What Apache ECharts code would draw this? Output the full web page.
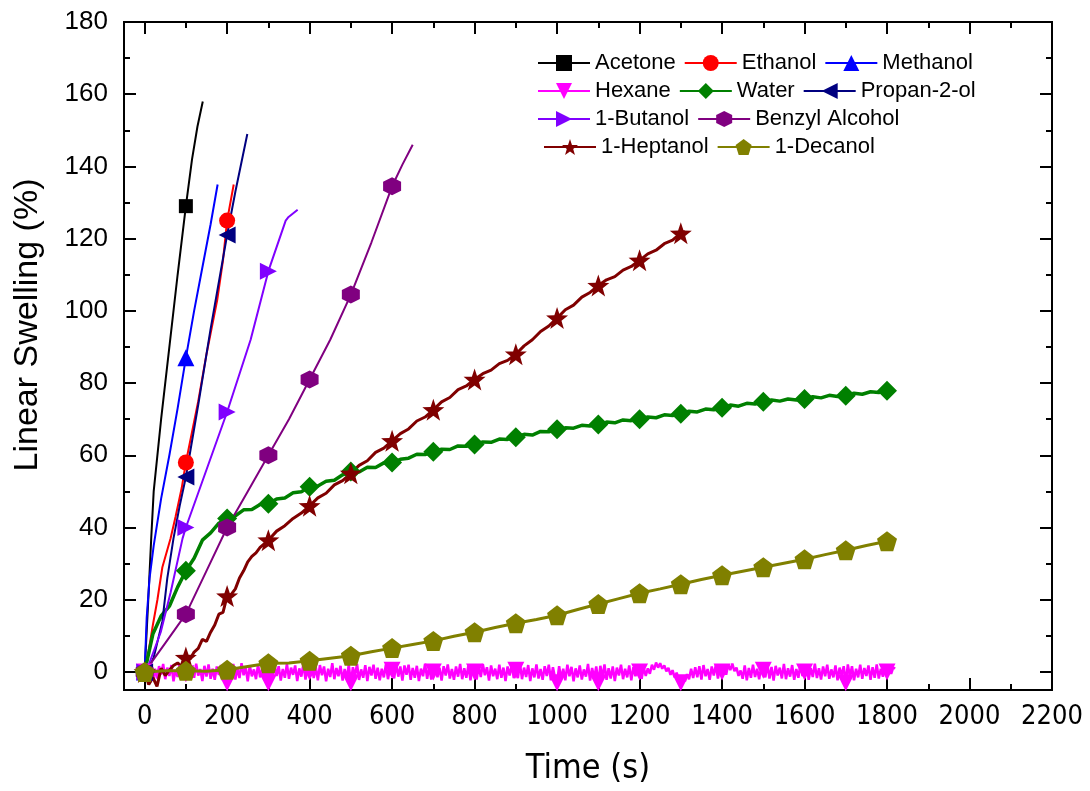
<!DOCTYPE html>
<html>
<head>
<meta charset="utf-8">
<script src="https://cdn.jsdelivr.net/npm/echarts@6/dist/echarts.min.js"></script>
<style>
  html, body { margin: 0; background: #fff; }
  #chart { width: 1090px; height: 791px; }
</style>
</head>
<body>
<div id="chart"></div>
<script>
// [time (s), linear swelling (%)]
const acetone = [[0,0],[8,18],[16,37],[22,50],[40,70],[61,91],[80,110],[100,129],[115,142],[128,151],[141,158]];
const ethanol = [[0,0],[10,6],[20,13],[31,20],[43,29],[63,37],[75,43],[90,51],[100,58],[130,75],[150,88],[176,103],[190,114],[200,125],[216,135]];
const methanol = [[0,0],[5,15],[12,26],[22,35],[40,48],[60,60],[80,73],[100,87],[120,100],[140,112],[160,124],[177,135]];
const propanol = [[0,0],[10,1],[22,4],[43,14],[55,26],[70,37],[85,46],[100,54],[130,74],[160,95],[200,121],[220,133],[249,149]];
const butanol = [[0,0],[10,2],[39,11],[63,22],[92,37],[100,40],[150,56],[200,72],[257,92],[300,111],[342,125],[349,126],[371,128]];
const benzyl = [[0,0],[50,8],[100,16],[150,28],[200,40],[250,50],[300,60],[350,70],[400,81],[450,92],[500,104.5],[550,119],[600,134.5],[625,140.5],[650,146]];
const decanol = [[0,0],[50,0.3],[100,0.3],[150,0.2],[200,0.6],[250,1.5],[300,2.4],[350,2.5],[400,3.1],[450,3.8],[500,4.5],[550,5.6],[600,6.6],[650,7.6],[700,8.6],[750,9.9],[800,11],[850,12.3],[900,13.5],[950,14.5],[1000,15.7],[1050,17.3],[1100,18.8],[1150,20.3],[1200,21.8],[1250,23.0],[1300,24.3],[1350,25.6],[1400,26.8],[1450,27.9],[1500,29],[1550,30.1],[1600,31.2],[1650,32.5],[1700,33.7],[1750,35],[1800,36.2]];
const heptanol = [[0,0],[10,-3.5],[20,-1.5],[30,-4],[40,1],[50,-1],[60,0.5],[70,1.8],[80,2.5],[90,1.5],[100,4],
  [110,3.5],[120,5.5],[130,6.5],[140,9],[150,8.5],[160,11],[170,13],[180,16],[190,16.5],[200,21],
  [210,21.5],[220,23],[230,26],[240,28],[250,30.5],[260,32],[270,33],[280,34.5],[290,35.5],[300,36.5],
  [320,39],[340,40.5],[360,42.5],[380,44],[400,46],[420,48.2],[440,49.5],[460,51.8],[480,53],[500,55],
  [520,57.2],[540,58.5],[560,60.8],[580,62],[600,64],[620,66],[640,67.3],[660,69.5],[680,70.6],[700,72.6],
  [720,74.8],[740,76],[760,78.2],[780,79.2],[800,81],[820,82.6],[840,83.6],[860,85.4],[880,86.3],[900,88],
  [920,90.3],[940,92],[960,94.3],[980,95.8],[1000,98],[1020,100.3],[1040,101.6],[1060,103.8],[1080,105.1],[1100,107],
  [1120,108.6],[1140,109.5],[1160,111.3],[1180,112.3],[1200,114],[1220,115.8],[1240,116.8],[1260,118.6],[1280,119.6],[1300,121.5],[1310,122]];

// water, sampled every 20 s
const waterStep = 20;
const waterVals = [0,10.5,15.5,18.2,23.5,28,31.5,36.5,38.5,41.2,
  42.5,43.2,44.9,45.0,46.4,46.6,47.9,48.2,49.6,49.9,
  51.3,51.5,52.8,53.1,54.6,55.5,55.4,56.7,56.6,57.9,
  58,58.9,59.2,60.3,60.2,61,61.7,61.6,62.6,62.5,
  63,63.7,63.6,64.5,64.4,65,65.8,65.6,66.6,66.5,
  67.2,67.6,67.5,68.3,68.1,68.5,69.2,69.0,69.8,69.6,
  70,70.6,70.4,71.2,71.0,71.5,72.2,72.0,72.8,72.6,
  73.2,73.9,73.6,74.4,74.2,74.8,75.3,75.0,75.6,75.3,
  75.6,76.2,75.9,76.6,76.3,76.5,77.2,76.9,77.6,77.4,77.9];

// hexane, sampled every 5 s (noise band around zero)
const hexaneStep = 5;
const hexaneVals = [
  0,1.8,-1.5,2.1,-2.4,0.9,-1.8,1.6,-0.7,2.2,-2.0,1.2,-1.1,1.9,-2.6,0.6,-1.4,2.0,-1.9,1.1,
  -0.5,2.0,-2.2,1.3,-1.6,2.3,-1.0,0.8,-2.5,1.7,-1.3,2.1,-1.9,0.9,-2.2,1.5,-0.8,1.9,-2.4,1.2,
  -3.0,1.6,-1.4,2.2,-2.1,1.0,-1.7,2.4,-0.9,1.3,-2.6,1.8,-1.2,0.7,-2.0,2.1,-1.5,1.1,-2.3,1.7,
  -3.0,1.4,-2.0,2.0,-1.1,1.6,-2.4,0.8,-1.6,2.2,-1.9,1.2,-0.8,1.8,-2.5,1.0,-1.3,2.3,-2.1,1.5,
  0,2.1,-1.7,1.3,-2.3,1.9,-0.9,1.5,-2.6,0.9,-1.4,2.4,-2.0,1.1,-1.2,1.7,-2.4,0.8,-1.8,2.0,
  -3.0,1.3,-1.2,2.2,-2.2,0.7,-1.6,1.9,-2.5,1.4,-1.0,2.0,-1.9,1.2,-2.3,0.9,-1.5,2.1,-2.0,1.1,
  0.5,-1.8,2.2,-1.3,1.5,-2.4,1.8,-0.8,2.0,-2.2,1.1,-1.6,1.7,-2.5,0.9,-1.2,2.3,-1.9,1.4,-2.1,
  0,1.9,-1.5,1.2,-2.4,1.6,-1.0,2.1,-1.8,0.8,-2.2,1.5,-1.3,2.2,-2.0,1.0,-1.6,1.8,-2.3,1.3,
  0,-2.1,1.6,-1.4,2.2,-0.9,1.3,-2.4,1.8,-1.2,0.9,-2.0,2.0,-1.6,1.2,-2.5,1.5,-1.0,1.9,-1.7,
  0.5,-1.7,2.3,-2.0,1.2,-1.4,1.9,-2.5,1.0,-1.5,2.1,-1.8,0.8,-2.2,1.6,-1.1,2.0,-2.3,1.3,-1.6,
  -3.0,1.6,-1.9,0.9,-2.3,2.0,-1.2,1.4,-2.6,1.0,-1.5,1.8,-2.1,0.7,-1.3,2.2,-2.4,1.1,-1.7,1.5,
  -3.0,1.7,-1.6,2.1,-2.2,1.0,-1.8,1.5,-2.5,1.2,-1.0,2.0,-2.0,0.9,-1.5,1.8,-2.3,1.3,-1.2,0.8,
  0,-1.9,1.3,-1.1,1.0,-0.5,2.0,0.6,2.6,1.2,2.4,0.9,1.8,0.2,1.1,-0.8,0.5,-1.5,-0.2,-2.2,
  -3.0,-1.4,-2.6,-0.6,-2.0,0.9,-1.7,1.3,-1.5,1.6,-2.1,1.9,-1.2,0.8,-2.2,1.5,-1.0,2.0,-1.8,1.1,
  0,1.6,-0.8,2.1,0.5,2.3,0.2,1.2,-1.1,0.4,-1.9,1.8,-2.3,1.1,-1.6,2.0,-1.4,0.9,-2.0,1.3,
  0.5,-1.5,2.1,-1.8,1.4,-2.4,1.7,-1.0,1.2,-1.8,2.2,-2.0,1.0,-1.3,1.9,-2.2,0.8,-1.6,2.0,-1.1,
  0,1.9,-2.2,1.1,-1.4,2.3,-1.7,1.0,-2.1,1.5,-1.2,2.0,-1.9,0.7,-1.5,1.8,-2.3,1.2,-1.0,1.6,
  -3.0,2.1,-1.3,1.6,-2.3,0.9,-1.5,2.0,-1.9,1.1,-1.1,1.8,-2.2,1.3,-1.6,2.1,-1.8,0.9,-1.3,1.5,
  0,1.3,-0.5,1.2,1.0];

const xMajor = [0,200,400,600,800,1000,1200,1400,1600,1800,2000,2200];
const xMinor = [100,300,500,700,900,1100,1300,1500,1700,1900,2100];
const yMajor = [0,20,40,60,80,100,120,140,160,180];
const yMinor = [10,30,50,70,90,110,130,150,170];

const legendRows = [
  ['Acetone', 'Ethanol', 'Methanol'],
  ['Hexane', 'Water', 'Propan-2-ol'],
  ['1-Butanol', 'Benzyl Alcohol'],
  ['1-Heptanol', '1-Decanol']
];

function sampled(vals, step) {
  return vals.map((v, i) => [i * step, v]);
}

const FONT = 'Liberation Sans, Arial, sans-serif';
const NARROW = 'Liberation Sans Narrow, Arial Narrow, DejaVu Sans Condensed, sans-serif';

const SYM = {
  down: 'path://M0,0L20,0L10,17.3Z',
  left: 'path://M17.3,0L17.3,20L0,10Z',
  right: 'path://M0,0L0,20L17.3,10Z',
  hex: 'path://M10,0L18.66,5L18.66,15L10,20L1.34,15L1.34,5Z',
  star: 'path://M10,0L12.35,6.76L19.51,6.91L13.8,11.24L15.88,18.09L10,14L4.12,18.09L6.2,11.24L0.49,6.91L7.65,6.76Z',
  pent: 'path://M10,0L19.51,6.91L15.88,18.09L4.12,18.09L0.49,6.91Z'
};

function line(name, color, data, symbol, size, width) {
  return {
    name: name,
    type: 'line',
    data: data,
    symbol: symbol,
    symbolSize: (v) => (v[0] % 100 === 0 ? size : 0),
    showAllSymbol: true,
    itemStyle: { color: color },
    lineStyle: { color: color, width: width },
    emphasis: { disabled: true },
    animation: false
  };
}

const series = [
  line('Acetone', '#000000', acetone, 'rect', 14, 2),
  line('Ethanol', '#ff0000', ethanol, 'circle', 16, 2),
  line('Methanol', '#0000ff', methanol, 'triangle', 17, 2),
  line('Hexane', '#ff00ff', sampled(hexaneVals, hexaneStep), SYM.down, 17, 2.5),
  line('Water', '#008000', sampled(waterVals, waterStep), 'diamond', 20, 3.5),
  line('Propan-2-ol', '#000080', propanol, SYM.left, 17, 2),
  line('1-Butanol', '#8000ff', butanol, SYM.right, 17, 2),
  line('Benzyl Alcohol', '#800080', benzyl, SYM.hex, 18, 2),
  line('1-Heptanol', '#800000', heptanol, SYM.star, 22, 3),
  line('1-Decanol', '#808000', decanol, SYM.pent, 20, 3)
];

const axisLine = { show: true, onZero: false, lineStyle: { color: '#000', width: 2 } };
function xAx(pos, ticks, len, labels) {
  return {
    type: 'value', position: pos, min: -50, max: 2200,
    axisLine: axisLine,
    axisTick: { show: true, inside: true, length: len, customValues: ticks, lineStyle: { color: '#000', width: 2 } },
    axisLabel: labels ? { show: true, customValues: ticks, formatter: (v) => String(v), color: '#000', fontSize: 27, fontFamily: NARROW, margin: 13 } : { show: false },
    splitLine: { show: false }
  };
}
function yAx(pos, ticks, len, labels) {
  return {
    type: 'value', position: pos, min: -5, max: 180,
    axisLine: axisLine,
    axisTick: { show: true, inside: true, length: len, customValues: ticks, lineStyle: { color: '#000', width: 2 } },
    axisLabel: labels ? { show: true, customValues: ticks, color: '#000', fontSize: 26, fontFamily: FONT, margin: 16 } : { show: false },
    splitLine: { show: false }
  };
}

const xAxes = [xAx('bottom', xMajor, 12, true), xAx('bottom', xMinor, 6, false), xAx('top', xMajor, 12, false), xAx('top', xMinor, 6, false)];
xAxes[0].name = 'Time (s)';
xAxes[0].nameLocation = 'middle';
xAxes[0].nameGap = 62;
xAxes[0].nameTextStyle = { fontSize: 34, fontFamily: NARROW, color: '#000' };
const yAxes = [yAx('left', yMajor, 12, true), yAx('left', yMinor, 6, false), yAx('right', yMajor, 12, false), yAx('right', yMinor, 6, false)];

const legendTops = [52, 80, 108, 136];
const legendLefts = [537, 537, 537, 543];
const legends = legendRows.map((row, i) => ({
  data: row,
  left: legendLefts[i],
  top: legendTops[i],
  orient: 'horizontal',
  itemWidth: 52,
  itemHeight: 20,
  itemGap: 8,
  padding: 0,
  selectedMode: false,
  textStyle: { fontSize: 22, fontFamily: FONT, color: '#000' }
}));

const chart = echarts.init(document.getElementById('chart'), null, { renderer: 'canvas' });
chart.setOption({
  backgroundColor: '#fff',
  animation: false,
  grid: { left: 124, top: 22, right: 38, bottom: 99, containLabel: false },
  legend: legends,
  xAxis: xAxes,
  yAxis: yAxes,
  graphic: [{
    type: 'text',
    x: 28,
    y: 325,
    rotation: Math.PI / 2,
    style: { text: 'Linear Swelling (%)', fontSize: 34, fontFamily: FONT, fill: '#000', align: 'center', verticalAlign: 'middle' }
  }],
  series: series
});
</script>
</body>
</html>
